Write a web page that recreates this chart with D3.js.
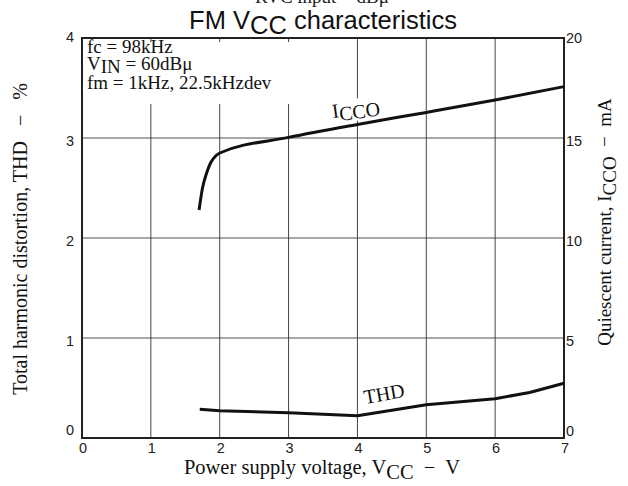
<!DOCTYPE html>
<html><head><meta charset="utf-8">
<script src="https://cdn.jsdelivr.net/npm/d3@7"></script>
<style>body{margin:0;background:#fff}svg{display:block}</style>
</head><body>
<svg id="c" width="628" height="486"></svg>
<script>
const xTicks = [0,1,2,3,4,5,6,7];
const thdTicks = [0,1,2,3,4];
const iccoTicks = [0,5,10,15,20];
const vccIcco = [1.70,1.75,1.81,1.86,1.91,2.0,3,4,5,6,7];
const icco    = [11.4,12.5,13.25,13.7,13.98,14.25,15.03,15.68,16.28,16.9,17.57];
const vccThd  = [1.71,2,3,4,5,6,6.5,7];
const thd     = [0.287,0.273,0.253,0.223,0.333,0.393,0.455,0.547];

const svg = d3.select('#c');
const L=82,R=564,T=38,B=438;
const x = d3.scaleLinear().domain([0,7]).range([L,R]);
const yL = d3.scaleLinear().domain([0,4]).range([B,T]);
const yR = d3.scaleLinear().domain([0,20]).range([B,T]);
const sans = "'Liberation Sans', Arial, sans-serif";
const serif = "'Liberation Serif', 'Times New Roman', serif";

// clipped top text
svg.append('text').attr('x',322).attr('y',3).attr('text-anchor','middle')
  .attr('font-family',serif).attr('font-size',19).attr('fill','#222').text('RVC input  −  dBμ');

// title
const t = svg.append('text').attr('x',323).attr('y',29).attr('text-anchor','middle')
  .attr('font-family',sans).attr('font-size',25.5).attr('fill','#111');
t.append('tspan').text('FM V');
t.append('tspan').attr('dy',5).text('CC');
t.append('tspan').attr('dy',-5).text(' characteristics');

// grid
const g = svg.append('g');
g.selectAll('.hg').data(thdTicks.slice(1,-1)).join('line')
  .attr('x1',L).attr('x2',R).attr('y1',d=>yL(d)).attr('y2',d=>yL(d))
  .attr('stroke','#8a8a8a').attr('stroke-width',1.5);
g.selectAll('.vg').data(xTicks.slice(1,-1)).join('line')
  .attr('x1',d=>x(d)).attr('x2',d=>x(d)).attr('y1',T).attr('y2',B)
  .attr('stroke','#444').attr('stroke-width',1);

// annotation box
svg.append('rect').attr('x',L+1).attr('y',42).attr('width',214).attr('height',62).attr('fill','#fff');
const ann = svg.append('g').attr('font-family',serif).attr('font-size',19).attr('fill','#111');
ann.append('text').attr('x',87).attr('y',53).text('fc = 98kHz');
const vin = ann.append('text').attr('x',87).attr('y',70);
vin.append('tspan').text('V');
vin.append('tspan').attr('dy',3).text('IN');
vin.append('tspan').attr('dy',-3).text(' = 60dBμ');
ann.append('text').attr('x',87).attr('y',89).text('fm = 1kHz, 22.5kHzdev');

// frame
svg.append('rect').attr('x',L).attr('y',T).attr('width',R-L).attr('height',B-T)
  .attr('fill','none').attr('stroke','#222').attr('stroke-width',2);

// curves
const lineI = d3.line().x((d,i)=>x(vccIcco[i])).y(d=>yR(d)).curve(d3.curveMonotoneX);
svg.append('path').attr('d',lineI(icco)).attr('fill','none').attr('stroke','#111').attr('stroke-width',3);
const lineT = d3.line().x((d,i)=>x(vccThd[i])).y(d=>yL(d));
svg.append('path').attr('d',lineT(thd)).attr('fill','none').attr('stroke','#111').attr('stroke-width',3)
  .attr('stroke-linejoin','round');

// curve labels
const il = svg.append('g').attr('transform','translate(333,118) rotate(-8)');
il.append('rect').attr('x',-1).attr('y',-16).attr('width',56).attr('height',22).attr('fill','#fff');
const it = il.append('text').attr('font-family',serif).attr('font-size',20).attr('fill','#111');
it.append('tspan').text('I');
it.append('tspan').attr('dy',4).text('CCO');
const tl = svg.append('g').attr('transform','translate(365,404) rotate(-10)');
tl.append('text').attr('font-family',serif).attr('font-size',20).attr('fill','#111').text('THD');

// tick labels
const tk = svg.append('g').attr('font-family',sans).attr('font-size',14.5).attr('fill','#222');
tk.selectAll('.xl').data(xTicks).join('text').attr('x',d=>x(d)+1).attr('y',B+15)
  .attr('text-anchor','middle').text(d=>d);
tk.selectAll('.yl').data(thdTicks).join('text').attr('x',L-8).attr('text-anchor','end')
  .attr('y',d=> d===0 ? B-3 : (d===4 ? yL(d)+4 : yL(d)+8)).text(d=>d);
tk.selectAll('.rl').data(iccoTicks).join('text').attr('x',R+2).attr('text-anchor','start')
  .attr('y',d=> d===0 ? B-2 : (d===20 ? yR(d)+5 : yR(d)+8)).text(d=>d);

// axis titles
const xt = svg.append('text').attr('x',322).attr('y',474).attr('text-anchor','middle')
  .attr('font-family',serif).attr('font-size',20.5).attr('fill','#111').attr('xml:space','preserve');
xt.append('tspan').text('Power supply voltage, V');
xt.append('tspan').attr('dy',5).text('CC');
xt.append('tspan').attr('dy',-5).text('  −  V');

svg.append('text').attr('transform','translate(27,239) rotate(-90)').attr('text-anchor','middle')
  .attr('font-family',serif).attr('font-size',20).attr('fill','#111').attr('xml:space','preserve')
  .text('Total harmonic distortion, THD   −   %');

const rt = svg.append('text').attr('transform','translate(611,222) rotate(-90)').attr('text-anchor','middle')
  .attr('font-family',serif).attr('font-size',19).attr('fill','#111').attr('xml:space','preserve');
rt.append('tspan').text('Quiescent current, I');
rt.append('tspan').attr('dy',5).text('CCO');
rt.append('tspan').attr('dy',-5).text('  −  mA');
</script>
</body></html>
